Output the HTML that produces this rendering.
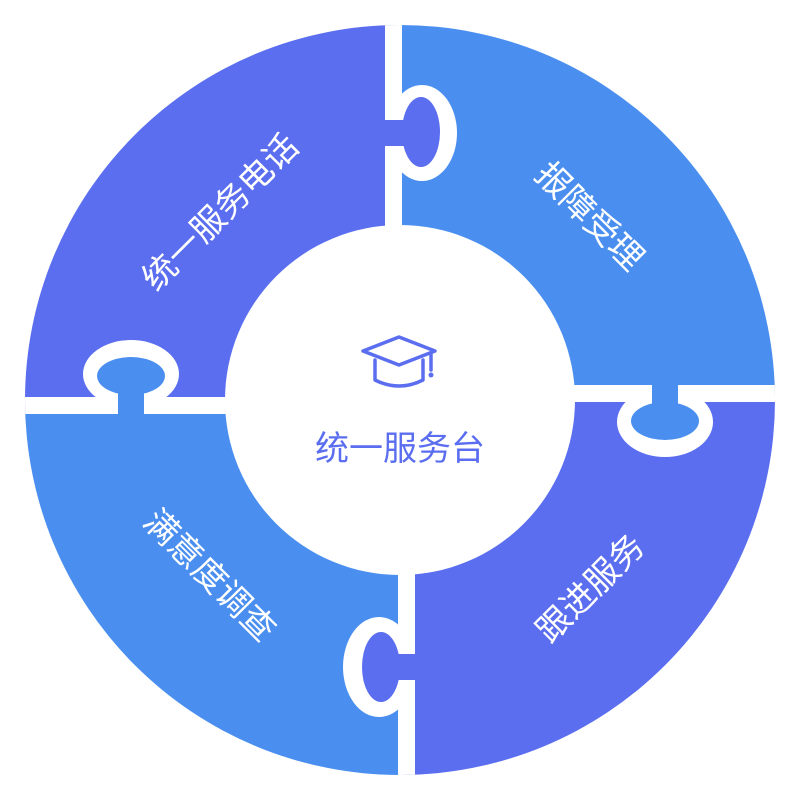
<!DOCTYPE html>
<html><head><meta charset="utf-8"><style>
body{margin:0;background:#fff}
svg text{font-family:"Liberation Sans","Noto Sans CJK SC",sans-serif}
</style></head><body>
<svg width="800" height="800" viewBox="0 0 800 800" xmlns="http://www.w3.org/2000/svg">
<defs><clipPath id="c"><circle cx="400" cy="400" r="375"/></clipPath></defs>
<g clip-path="url(#c)">
<rect x="0" y="0" width="400" height="400" fill="#5b6ef0"/>
<rect x="400" y="0" width="400" height="400" fill="#4a8ff0"/>
<rect x="0" y="400" width="400" height="400" fill="#4a8ff0"/>
<rect x="400" y="400" width="400" height="400" fill="#5b6ef0"/>
<rect x="385" y="0" width="17" height="400" fill="#fff"/>
<rect x="398" y="400" width="17" height="400" fill="#fff"/>
<rect x="0" y="397" width="400" height="17" fill="#fff"/>
<rect x="400" y="385" width="400" height="17" fill="#fff"/>
<ellipse cx="422" cy="133" rx="35" ry="48" fill="#fff"/>
<ellipse cx="131" cy="374" rx="48" ry="34" fill="#fff"/>
<ellipse cx="665" cy="422" rx="48" ry="35" fill="#fff"/>
<ellipse cx="379" cy="667" rx="36" ry="50" fill="#fff"/>
<ellipse cx="421" cy="132" rx="19" ry="35" fill="#5b6ef0"/>
<rect x="380" y="120" width="33" height="26" fill="#5b6ef0"/>
<ellipse cx="131" cy="376" rx="34" ry="19" fill="#4a8ff0"/>
<rect x="118" y="382" width="26" height="38" fill="#4a8ff0"/>
<ellipse cx="665" cy="421" rx="34" ry="19" fill="#4a8ff0"/>
<rect x="652" y="380" width="26" height="33" fill="#4a8ff0"/>
<ellipse cx="381" cy="667" rx="19" ry="35" fill="#5b6ef0"/>
<rect x="390" y="654" width="30" height="26" fill="#5b6ef0"/>
</g>
<circle cx="400" cy="400" r="175" fill="#fff"/>
<g fill="#fff" font-size="34" text-anchor="middle">
<text transform="translate(220,212) rotate(-45)" dy="12">统一服务电话</text>
<text transform="translate(590,216) rotate(45)" dy="12">报障受理</text>
<text transform="translate(590,588) rotate(-45)" dy="12">跟进服务</text>
<text transform="translate(210,575) rotate(45)" dy="12">满意度调查</text>
</g>
<text x="400" y="460" font-size="34" fill="#5b6ef0" text-anchor="middle">统一服务台</text>
<g fill="none" stroke="#5b6ef0" stroke-width="3.5" stroke-linejoin="round" stroke-linecap="round">
<path d="M399 337 L435 351 L399 365 L363 351 Z"/>
<path d="M375 360 V380 Q399 392 423 380 V360"/>
<path d="M431 354 V370"/>
</g>
<circle cx="431" cy="375" r="2.5" fill="#5b6ef0"/>
</svg>
</body></html>
